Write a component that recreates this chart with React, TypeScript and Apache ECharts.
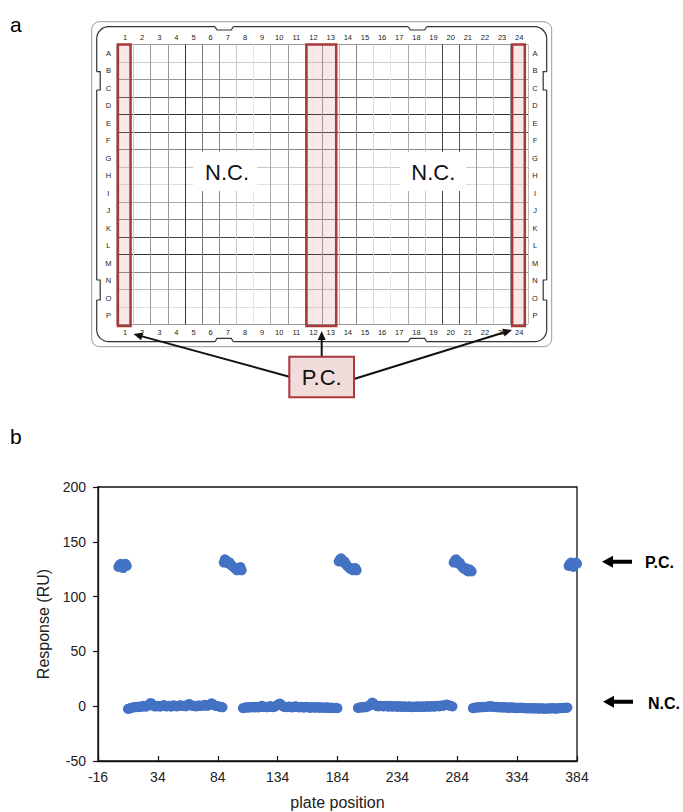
import React, { useEffect, useRef } from "react";
import * as echarts from "echarts";

// ---------------- Data ----------------
const plateColumnLabels = ["1", "2", "3", "4", "5", "6", "7", "8", "9", "10", "11", "12", "13", "14", "15", "16", "17", "18", "19", "20", "21", "22", "23", "24"];
const plateRowLabels = ["A", "B", "C", "D", "E", "F", "G", "H", "I", "J", "K", "L", "M", "N", "O", "P"];
const pcColumnGroups = [[1, 1], [12, 13], [24, 24]];

const xMin = -16;
const xMax = 384;
const xStep = 50;
const yMin = -50;
const yMax = 200;
const yStep = 50;

const pcStartPositions = [1, 89, 185, 281, 377];
const pcResponses1 = [127, 129, 130, 128, 126, 128, 130, 128];
const pcResponses2 = [131, 134, 133, 132, 130, 131, 129, 128, 127, 126, 125, 124, 126, 125, 127, 124];
const pcResponses3 = [132, 134, 135, 133, 131, 132, 130, 128, 127, 126, 125, 126, 124, 125, 126, 124];
const pcResponses4 = [131, 133, 134, 132, 130, 131, 129, 127, 126, 125, 126, 124, 123, 125, 124, 123];
const pcResponses5 = [128, 130, 131, 129, 127, 129, 131, 130];

const ncStartPositions = [9, 105, 201, 297];
const ncResponses1 = [
  -2.5, -2.2, -1.8, -1.5, -1.2, -1.0, -0.8, -0.6, -0.9, -0.5,
  -0.3, -0.6, -0.2, 0.3, -0.1, -0.4, 0.2, 0.8, 1.9, 3.0,
  2.1, 0.6, -0.2, 0.1, -0.3, 0.4, 0.2, -0.5, 0.1, 0.6,
  1.0, 0.3, -0.2, 0.0, 0.5, 0.2, -0.4, 0.3, 0.8, 0.4,
  0.0, -0.3, 0.2, 0.6, 0.9, 0.5, 0.1, 0.4, -0.1, 0.3,
  1.2, 2.1, 1.5, 0.6, 0.2, 0.5, 0.0, -0.2, 0.3, 0.7,
  0.4, 0.1, 0.5, 0.9, 1.3, 0.8, 0.3, 0.6, 1.1, 2.2,
  2.6, 1.7, 0.9, 0.5, 0.2, 0.0, -0.3, -0.5, -0.8, -1.0,
];
const ncResponses2 = [
  -1.8, -1.5, -1.2, -1.0, -1.3, -0.9, -1.1, -0.7, -1.0, -0.8,
  -1.2, -0.6, -0.9, -1.1, -0.5, -0.2, 0.3, -0.4, -0.8, -0.6,
  -1.0, -0.7, -0.3, 0.1, -0.5, -0.9, -0.6, -0.2, 0.4, 1.2,
  2.0, 2.4, 1.3, 0.2, -0.4, -0.8, -0.5, -0.9, -0.6, -0.3,
  -0.7, -1.1, -0.8, -0.4, 0.0, -0.5, -0.9, -1.2, -0.8, -0.6,
  -1.0, -1.3, -0.9, -0.5, -0.8, -1.2, -1.5, -1.1, -0.7, -1.0,
  -1.4, -1.2, -0.8, -1.1, -1.5, -1.3, -0.9, -1.2, -1.6, -1.4,
  -1.0, -1.3, -1.7, -1.5, -1.2, -1.6, -1.9, -1.7, -1.4, -1.8,
];
const ncResponses3 = [
  -1.6, -1.4, -1.0, -1.2, -0.8, -1.1, -0.6, -0.9, -0.3, 0.2,
  0.9, 2.0, 3.4, 2.6, 1.4, 0.6, 0.2, -0.2, 0.1, 0.5,
  0.2, -0.3, 0.0, 0.4, 0.1, -0.4, -0.1, 0.3, -0.2, -0.5,
  -0.1, 0.2, -0.3, -0.6, -0.2, 0.1, -0.4, -0.7, -0.3, 0.0,
  -0.5, -0.8, -0.4, -0.1, -0.6, -0.9, -0.5, -0.2, -0.7, -0.4,
  -0.1, -0.6, -0.8, -0.3, 0.0, -0.4, -0.7, -0.2, 0.1, -0.3,
  -0.6, -0.1, 0.2, -0.2, -0.5, 0.0, 0.3, 0.1, -0.2, 0.4,
  0.7, 0.3, 0.6, 1.1, 1.5, 1.2, 0.8, 0.4, 0.1, -0.3,
];
const ncResponses4 = [
  -1.8, -1.5, -1.2, -1.4, -0.9, -1.1, -0.7, -1.0, -0.6, -0.9,
  -0.5, -0.8, -0.4, -0.1, -0.6, 0.2, -0.3, -0.7, -0.4, -0.9,
  -0.6, -1.0, -0.7, -1.2, -0.9, -1.3, -1.0, -0.8, -1.2, -1.5,
  -1.1, -1.4, -1.0, -1.3, -1.6, -1.2, -1.5, -1.8, -1.4, -1.7,
  -1.3, -1.6, -1.9, -1.5, -1.8, -2.1, -1.7, -2.0, -1.6, -1.9,
  -2.2, -1.8, -2.1, -1.7, -2.0, -2.3, -1.9, -2.2, -1.8, -2.1,
  -2.4, -2.0, -2.3, -1.9, -2.2, -1.8, -2.1, -1.7, -2.0, -2.3,
  -1.9, -2.1, -1.8, -1.6, -1.9, -1.5, -1.7, -1.4, -1.6, -1.3,
];

// ---------------- Styles ----------------
const FONT = "'Liberation Sans', Arial, Helvetica, sans-serif";
const vLineColors = ["#bbb", "#ccc", "#999", "#999", "#333", "#777", "#888", "#c8c8c8", "#e4e4e4", "#aaa", "#999", "#999", "#999", "#bbb", "#888", "#d8d8d8", "#e8e8e8", "#aaa", "#ccc", "#444", "#555", "#999", "#ccc", "#999", "#bbb"];
const hLineColors = ["#999", "#ccc", "#999", "#555", "#333", "#444", "#888", "#c8c8c8", "#ddd", "#aaa", "#888", "#444", "#333", "#888", "#bbb", "#ddd", "#999"];

function arrowHead(tipX: number, tipY: number, fromX: number, fromY: number, len: number, half: number) {
  const dx = tipX - fromX;
  const dy = tipY - fromY;
  const d = Math.hypot(dx, dy);
  const ux = dx / d;
  const uy = dy / d;
  const bx = tipX - ux * len;
  const by = tipY - uy * len;
  return [
    [tipX, tipY],
    [bx - uy * half, by + ux * half],
    [bx + uy * half, by - ux * half],
  ];
}

function pointerArrow(x: number, y: number) {
  return [
    [x, y],
    [x + 11, y - 6],
    [x + 11, y - 2],
    [x + 30, y - 2],
    [x + 30, y + 2],
    [x + 11, y + 2],
    [x + 11, y + 6],
  ];
}

export default function App() {
  const ref = useRef<HTMLDivElement>(null);

  useEffect(() => {
    if (!ref.current) return;
    const chart = echarts.init(ref.current, undefined, { renderer: "svg" });

    const pcGroups = [pcResponses1, pcResponses2, pcResponses3, pcResponses4, pcResponses5];
    const ncGroups = [ncResponses1, ncResponses2, ncResponses3, ncResponses4];
    const pcData = pcStartPositions.flatMap((start, g) => pcGroups[g].map((v, i) => [start + i, v]));
    const ncData = ncStartPositions.flatMap((start, g) => ncGroups[g].map((v, i) => [start + i, v]));

    const plateLabel = { fontSize: 7.5, color: "#222", fontFamily: FONT, interval: 0 };

    const arrows: any[] = [];
    const arrowDefs = [
      { from: [289.3, 376.7], to: [133.5, 334] },
      { from: [321.7, 356.7], to: [321.7, 331] },
      { from: [354, 379], to: [512, 330] },
    ];
    arrowDefs.forEach((a) => {
      const head = arrowHead(a.to[0], a.to[1], a.from[0], a.from[1], 9, 4);
      const dx = a.to[0] - a.from[0];
      const dy = a.to[1] - a.from[1];
      const d = Math.hypot(dx, dy);
      arrows.push({
        type: "line",
        z: 100,
        shape: { x1: a.from[0], y1: a.from[1], x2: a.to[0] - (dx / d) * 7, y2: a.to[1] - (dy / d) * 7 },
        style: { stroke: "#111", lineWidth: 2 },
      });
      arrows.push({ type: "polygon", z: 100, shape: { points: head }, style: { fill: "#111" } });
    });

    const notchGraphics: any[] = [];
    [[215, 233.3], [408.3, 426.7]].forEach(([a, b]) => {
      notchGraphics.push({ type: "rect", z: 5, shape: { x: a, y: 25.5, width: b - a, height: 2.4 }, style: { fill: "#fff" } });
      notchGraphics.push({ type: "polyline", z: 6, shape: { points: [[a, 26.7], [a + 2, 30], [b - 2, 30], [b, 26.7]] }, style: { stroke: "#333", lineWidth: 1.2, fill: "none" } });
      notchGraphics.push({ type: "rect", z: 5, shape: { x: a, y: 340.5, width: b - a, height: 2.4 }, style: { fill: "#fff" } });
      notchGraphics.push({ type: "polyline", z: 6, shape: { points: [[a, 341.7], [a + 2, 338.4], [b - 2, 338.4], [b, 341.7]] }, style: { stroke: "#333", lineWidth: 1.2, fill: "none" } });
    });
    [[71.7, 90], [280, 300]].forEach(([a, b]) => {
      notchGraphics.push({ type: "rect", z: 5, shape: { x: 95.5, y: a, width: 2.4, height: b - a }, style: { fill: "#fff" } });
      notchGraphics.push({ type: "polyline", z: 6, shape: { points: [[96.7, a], [100.2, a], [100.2, b], [96.7, b]] }, style: { stroke: "#333", lineWidth: 1.2, fill: "none" } });
      notchGraphics.push({ type: "rect", z: 5, shape: { x: 545.5, y: a, width: 2.4, height: b - a }, style: { fill: "#fff" } });
      notchGraphics.push({ type: "polyline", z: 6, shape: { points: [[546.7, a], [543.2, a], [543.2, b], [546.7, b]] }, style: { stroke: "#333", lineWidth: 1.2, fill: "none" } });
    });

    const option: any = {
      animation: false,
      backgroundColor: "#fff",
      textStyle: { fontFamily: FONT },
      grid: [
        { left: 116.4, top: 44.5, width: 411.4, height: 279.9, show: false },
        { left: 98, top: 487, width: 479, height: 274, show: true, borderColor: "#111", borderWidth: 1.3, backgroundColor: "transparent" },
      ],
      xAxis: [
        {
          gridIndex: 0,
          type: "category",
          position: "top",
          data: plateColumnLabels,
          boundaryGap: true,
          axisLine: { show: false },
          axisTick: { show: false },
          axisLabel: { ...plateLabel, margin: 3.5 },
          splitLine: { show: true, interval: 0, lineStyle: { color: vLineColors, width: 1 } },
        },
        {
          gridIndex: 0,
          type: "category",
          position: "bottom",
          data: plateColumnLabels,
          boundaryGap: true,
          axisLine: { show: false },
          axisTick: { show: false },
          axisLabel: { ...plateLabel, margin: 4.5 },
          splitLine: { show: false },
        },
        {
          gridIndex: 1,
          type: "value",
          min: xMin,
          max: xMax,
          interval: xStep,
          name: "plate position",
          nameLocation: "middle",
          nameGap: 33,
          nameTextStyle: { fontSize: 16, color: "#222", fontFamily: FONT },
          axisLine: { show: true, onZero: false, lineStyle: { color: "#111", width: 1.3 } },
          axisTick: { show: true, inside: true, length: 5, lineStyle: { color: "#111", width: 1.2 } },
          axisLabel: { fontSize: 14, color: "#222", margin: 9, fontFamily: FONT },
          splitLine: { show: false },
        },
      ],
      yAxis: [
        {
          gridIndex: 0,
          type: "category",
          position: "left",
          inverse: true,
          data: plateRowLabels,
          boundaryGap: true,
          axisLine: { show: false },
          axisTick: { show: false },
          axisLabel: { ...plateLabel, margin: 8, align: "center" },
          splitLine: { show: true, interval: 0, lineStyle: { color: hLineColors, width: 1 } },
        },
        {
          gridIndex: 0,
          type: "category",
          position: "right",
          inverse: true,
          data: plateRowLabels,
          boundaryGap: true,
          axisLine: { show: false },
          axisTick: { show: false },
          axisLabel: { ...plateLabel, margin: 7.2, align: "center" },
          splitLine: { show: false },
        },
        {
          gridIndex: 1,
          type: "value",
          min: yMin,
          max: yMax,
          interval: yStep,
          name: "Response (RU)",
          nameLocation: "middle",
          nameGap: 43,
          nameTextStyle: { fontSize: 16, color: "#222", fontFamily: FONT },
          axisLine: { show: true, onZero: false, lineStyle: { color: "#111", width: 1.3 } },
          axisTick: { show: true, inside: false, length: 5, lineStyle: { color: "#111", width: 1.2 } },
          axisLabel: { fontSize: 14, color: "#222", margin: 12, fontFamily: FONT },
          splitLine: { show: false },
        },
      ],
      series: [
        {
          type: "custom",
          name: "P.C. columns",
          xAxisIndex: 0,
          yAxisIndex: 0,
          data: pcColumnGroups.map(([s, e]) => [s - 1, e - 1]),
          renderItem: (_params: any, api: any) => {
            const s = api.value(0);
            const e = api.value(1);
            const c0 = api.coord([s, 0]);
            const c1 = api.coord([e, plateRowLabels.length - 1]);
            const sz = api.size([1, 1]);
            const x0 = c0[0] - sz[0] / 2 + 1.5;
            const x1 = c1[0] + sz[0] / 2 - 3;
            const y0 = c0[1] - sz[1] / 2;
            const y1 = c1[1] + sz[1] / 2 + 1.5;
            return {
              type: "rect",
              shape: { x: x0, y: y0, width: x1 - x0, height: y1 - y0 },
              style: { fill: "rgba(215,110,110,0.16)", stroke: "#a8383a", lineWidth: 2.5 },
            };
          },
          z: 3,
        },
        {
          type: "scatter",
          name: "P.C.",
          xAxisIndex: 2,
          yAxisIndex: 2,
          data: pcData,
          symbol: "circle",
          symbolSize: 10,
          itemStyle: { color: "#4472c4", opacity: 1 },
        },
        {
          type: "scatter",
          name: "N.C.",
          xAxisIndex: 2,
          yAxisIndex: 2,
          data: ncData,
          symbol: "circle",
          symbolSize: 10,
          itemStyle: { color: "#4472c4", opacity: 1 },
        },
      ],
      graphic: [
        { type: "rect", z: 1, shape: { x: 91.7, y: 21.7, width: 460, height: 325, r: 8 }, style: { fill: "none", stroke: "#9a9a9a", lineWidth: 1 } },
        { type: "rect", z: 1, shape: { x: 96.7, y: 26.7, width: 450, height: 315, r: 12 }, style: { fill: "none", stroke: "#333", lineWidth: 1.2 } },
        ...notchGraphics,
        { type: "rect", z: 90, shape: { x: 193, y: 152, width: 64, height: 39 }, style: { fill: "#fff" } },
        { type: "rect", z: 90, shape: { x: 400, y: 152, width: 66, height: 39 }, style: { fill: "#fff" } },
        { type: "text", z: 100, x: 227, y: 172.5, style: { text: "N.C.", fontSize: 22, fill: "#111", fontFamily: FONT, align: "center", verticalAlign: "middle" } },
        { type: "text", z: 100, x: 433.3, y: 172.5, style: { text: "N.C.", fontSize: 22, fill: "#111", fontFamily: FONT, align: "center", verticalAlign: "middle" } },
        ...arrows,
        { type: "rect", z: 100, shape: { x: 289.3, y: 356.7, width: 64.7, height: 40.6 }, style: { fill: "#f2dcdb", stroke: "#a8383a", lineWidth: 2 } },
        { type: "text", z: 101, x: 321.7, y: 377, style: { text: "P.C.", fontSize: 22, fill: "#111", fontFamily: FONT, align: "center", verticalAlign: "middle" } },
        { type: "text", z: 100, x: 10, y: 24, style: { text: "a", fontSize: 21, fill: "#000", fontFamily: FONT, align: "left", verticalAlign: "middle" } },
        { type: "text", z: 100, x: 10, y: 436, style: { text: "b", fontSize: 21, fill: "#000", fontFamily: FONT, align: "left", verticalAlign: "middle" } },
        { type: "polygon", z: 100, shape: { points: pointerArrow(602, 561.7) }, style: { fill: "#000" } },
        { type: "polygon", z: 100, shape: { points: pointerArrow(603, 701.7) }, style: { fill: "#000" } },
        { type: "text", z: 100, x: 645, y: 562.5, style: { text: "P.C.", fontSize: 16, fontWeight: "bold", fill: "#000", fontFamily: FONT, align: "left", verticalAlign: "middle" } },
        { type: "text", z: 100, x: 648, y: 703.3, style: { text: "N.C.", fontSize: 16, fontWeight: "bold", fill: "#000", fontFamily: FONT, align: "left", verticalAlign: "middle" } },
      ],
    };

    chart.setOption(option);
    return () => chart.dispose();
  }, []);

  return <div ref={ref} style={{ position: "absolute", left: 0, top: 0, width: 683, height: 812 }} />;
}
